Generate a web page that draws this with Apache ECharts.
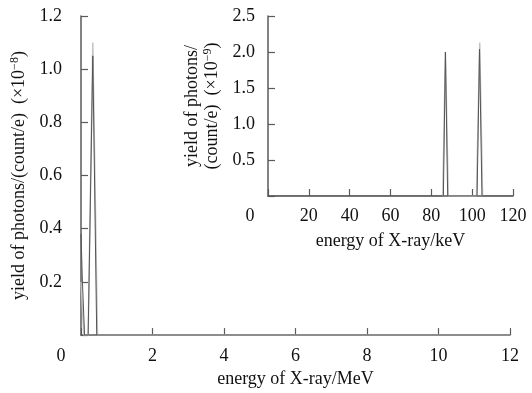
<!DOCTYPE html>
<html>
<head>
<meta charset="utf-8">
<script src="https://cdn.jsdelivr.net/npm/echarts@6/dist/echarts.min.js"></script>
<style>
  html, body { margin: 0; padding: 0; background: #fff; }
  #chart { width: 532px; height: 393px; }
</style>
</head>
<body>
<div id="chart"></div>
<script>
// main spectrum, x in MeV, y in 1e-8 count/e
const mainDark = [[0, 0.38], [0.04, 0.2], [0.1, 0], [0.2, 0], [0.33, 1.05], [0.44, 0], [12, 0]];
const mainGray = [[0, 0.2], [0.08, 0], [0.2, 0], [0.33, 1.1], [0.46, 0], [12, 0]];
// inset spectrum, x in keV, y in 1e-9 count/e
const insetDark = [[0, 0], [85.9, 0], [86.9, 2.0], [88.0, 0], [102.4, 0], [103.6, 2.04], [104.8, 0], [120, 0]];
const insetGray = [[85.6, 0], [86.9, 1.99], [88.3, 0], [102.1, 0], [103.7, 2.13], [105.1, 0]];

const font = 'Liberation Serif';
const fs = 18;
const axisColor = '#5a5a5a';

function valueAxis(opt) {
  return Object.assign({
    type: 'value',
    axisLine: { show: true, onZero: false, lineStyle: { color: axisColor, width: 1.5 } },
    axisTick: { show: true, inside: true, length: 7, lineStyle: { width: 1.2 } },
    splitLine: { show: false },
    nameTextStyle: { fontFamily: font, fontSize: fs, color: '#111' }
  }, opt);
}

function labels(margin, zeroPad, digits) {
  return {
    margin: margin,
    fontFamily: font, fontSize: fs, color: '#111',
    formatter: function (v) {
      if (v === 0) return zeroPad ? '{o|0}' : '';
      return digits ? v.toFixed(digits) : String(v);
    },
    rich: zeroPad ? { o: { fontFamily: font, fontSize: fs, color: '#111', padding: [0, zeroPad, 0, 0] } } : {}
  };
}

const sup = { fontFamily: font, fontSize: 12, color: '#111', verticalAlign: 'top', padding: [0, 0, 9, 0] };
const nrm = { fontFamily: font, fontSize: fs, color: '#111' };

const chart = echarts.init(document.getElementById('chart'), null, { renderer: 'canvas' });
chart.setOption({
  animation: false,
  grid: [
    { left: 81, right: 22, top: 16, bottom: 52 },
    { left: 268, right: 19, top: 16, bottom: 197 }
  ],
  xAxis: [
    valueAxis({
      gridIndex: 0, min: 0, max: 12, interval: 2,
      axisLabel: labels(12, 40, 0),
      name: 'energy of X-ray/MeV', nameLocation: 'middle', nameGap: 33
    }),
    valueAxis({
      gridIndex: 1, min: 0, max: 120, interval: 20,
      axisLabel: labels(11, 36, 0),
      name: 'energy of X-ray/keV', nameLocation: 'middle', nameGap: 36
    })
  ],
  yAxis: [
    valueAxis({
      gridIndex: 0, min: 0, max: 1.2, interval: 0.2,
      axisLabel: labels(19, 0, 1),
      name: '{n|yield of photons/(count/e)  (×10}{s|−8}{n|)}',
      nameLocation: 'middle', nameGap: 48,
      nameTextStyle: { rich: { n: nrm, s: sup } }
    }),
    valueAxis({
      gridIndex: 1, min: 0, max: 2.5, interval: 0.5,
      axisLabel: labels(13, 0, 1),
      name: '{n|yield of photons/}\n{n|(count/e)  (×10}{s|−9}{n|)}',
      nameLocation: 'middle', nameGap: 46,
      nameTextStyle: { lineHeight: 20, rich: { n: nrm, s: sup } }
    })
  ],
  series: [
    { type: 'line', xAxisIndex: 0, yAxisIndex: 0, data: mainGray, symbol: 'none',
      lineStyle: { color: '#c4c4c4', width: 1.5 } },
    { type: 'line', xAxisIndex: 0, yAxisIndex: 0, data: mainDark, symbol: 'none',
      lineStyle: { color: '#555', width: 1 } },
    { type: 'line', xAxisIndex: 1, yAxisIndex: 1, data: insetGray, symbol: 'none',
      lineStyle: { color: '#c4c4c4', width: 1.5 } },
    { type: 'line', xAxisIndex: 1, yAxisIndex: 1, data: insetDark, symbol: 'none',
      lineStyle: { color: '#555', width: 1 } }
  ]
});
</script>
</body>
</html>
